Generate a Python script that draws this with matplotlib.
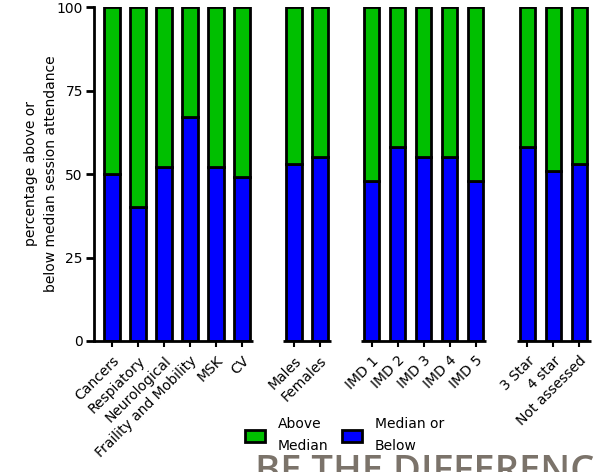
import matplotlib
matplotlib.use("Agg")
import matplotlib.pyplot as plt
from matplotlib.patches import Patch
import numpy as np

categories = ["Cancers", "Respiatory", "Neurological", "Fraility and Mobility", "MSK", "CV",
              "Males", "Females",
              "IMD 1", "IMD 2", "IMD 3", "IMD 4", "IMD 5",
              "3 Star", "4 star", "Not assessed"]
group_sizes = [6, 2, 5, 3]
below = [50, 40, 52, 67, 52, 49,
         53, 55,
         48, 58, 55, 55, 48,
         58, 51, 53]
above = [100 - b for b in below]
yticks = [0, 25, 50, 75, 100]

GREEN = "#00bf00"
BLUE = "#0000ff"

plt.rcParams['font.family'] = ['DejaVu Sans']

fig = plt.figure(figsize=(5.97, 4.72), dpi=100)
ax = fig.add_axes([94/597, (472-341)/472, (591-94)/597, (341-7)/472])

# positions with one empty slot between groups
pos = []
start = 0
groups = []
for g in group_sizes:
    p = list(range(start, start + g))
    groups.append(p)
    pos += p
    start += g + 1
pos = np.array(pos)

w = 0.6
ax.bar(pos, below, width=w, color=BLUE, edgecolor="black", linewidth=2, zorder=3)
ax.bar(pos, above, width=w, bottom=below, color=GREEN, edgecolor="black", linewidth=2, zorder=3)

xl, xr = -0.7, pos[-1] + 0.45
ax.set_xlim(xl, xr)
ax.set_ylim(0, 100)

for s in ["top", "right", "bottom"]:
    ax.spines[s].set_visible(False)
ax.spines["left"].set_linewidth(2)

# segmented baseline per group
for i, p in enumerate(groups):
    a = xl if i == 0 else p[0] - 0.42
    b = xr if i == len(groups) - 1 else p[-1] + 0.42
    ax.plot([a, b], [0, 0], color="black", lw=2, solid_capstyle="butt",
            clip_on=False, zorder=4)

ax.set_yticks(yticks)
ax.set_yticklabels([str(t) for t in yticks], fontsize=10)
ax.tick_params(axis="y", length=6, width=2, pad=2)
ax.set_xticks(pos)
ax.set_xticklabels(categories, rotation=45, ha="right", va="top",
                   rotation_mode="anchor", fontsize=10)
ax.tick_params(axis="x", length=4, width=1.5, pad=5)

ax.set_ylabel("percentage above or\nbelow median session attendance",
              fontsize=10, linespacing=1.5, labelpad=-1)

handles = [Patch(facecolor=GREEN, edgecolor="black", linewidth=2),
           Patch(facecolor=BLUE, edgecolor="black", linewidth=2)]
leg = fig.legend(handles, ["Above\nMedian", "Median or\nBelow"], ncol=2,
                 frameon=False, fontsize=10, loc="center left",
                 bbox_to_anchor=(234/597, 1 - 435/472),
                 handlelength=1.45, handleheight=1.0, handletextpad=0.9,
                 columnspacing=1.0, borderpad=0.3)
for t in leg.get_texts():
    t.set_linespacing(1.75)

# watermark fragment
txt = "BE THE DIFFERENC"
wm = fig.text(0, 0, txt, fontsize=30, family="Open Sans", weight="semibold",
              color="#7b736a")
fig.canvas.draw()
wpx = wm.get_window_extent().width
fs = 30 * 338 / wpx
wm.set_fontsize(fs)
cap = 0.714 * fs * 100 / 72
base = 455 + cap
wm.set_position((255/597, 1 - base/472))
wm.set_va("baseline")

fig.savefig("out.png", dpi=100)
